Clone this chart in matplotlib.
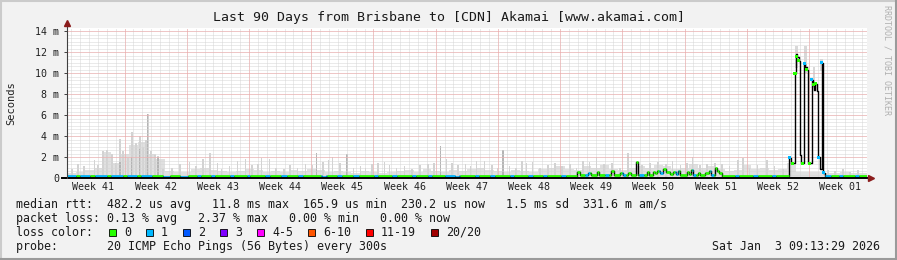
import numpy as np
import matplotlib
matplotlib.use("Agg")
import matplotlib.pyplot as plt
from matplotlib.patches import Rectangle
from matplotlib.lines import Line2D

W, H = 897, 260
MONO = "DejaVu Sans Mono"

title = "Last 90 Days from Brisbane to [CDN] Akamai [www.akamai.com]"
week_labels = ["Week 41", "Week 42", "Week 43", "Week 44", "Week 45", "Week 46", "Week 47",
               "Week 48", "Week 49", "Week 50", "Week 51", "Week 52", "Week 01"]
first_week_line = 6.47          # day where "Week 42" starts
y_ticks = [0, 2, 4, 6, 8, 10, 12, 14]
y_labels = ["0", "2 m", "4 m", "6 m", "8 m", "10 m", "12 m", "14 m"]

# smoke (ms) - one value per day
smoke_base = [0.5, 0.6, 0.8, 1.0, 2.5, 1.4, 2.3, 3.2, 3.4, 2.3,
              1.8, 0.7, 0.6, 0.6, 0.9, 1.0, 0.8, 0.7, 0.6, 0.7,
              0.9, 0.8, 0.6, 0.7, 0.6, 0.8, 0.7, 0.9, 0.8, 0.6,
              0.7, 0.6, 0.5, 0.7, 0.6, 0.5, 0.6, 0.7, 0.8, 0.6,
              0.9, 0.7, 0.6, 0.8, 0.7, 0.9, 1.0, 0.8, 0.7, 0.6,
              0.8, 0.7, 0.6, 0.9, 1.0, 1.1, 0.9, 0.8, 1.1, 1.0,
              1.2, 0.9, 0.8, 1.0, 1.1, 1.0, 1.2, 1.1, 0.9, 1.0,
              1.3, 1.0, 1.1, 0.9, 0.7, 0.8, 1.2, 0.9, 1.0, 0.8,
              0.9, 1.4, 0.6, 0.6, 0.6, 0.5, 0.5, 0.6, 0.5, 0.5]

# single smoke spikes (day, ms)
spike_day = [0.56, 1.24, 1.9, 3.1, 3.5, 4.05, 4.5, 5.06, 5.5, 5.96, 6.3, 6.86, 7.3, 7.76,
             8.2, 8.55, 8.9, 9.1, 9.45, 9.9, 10.24, 10.8, 11.8, 12.7, 13.8, 14.5, 15.3,
             16.1, 16.9, 17.4, 18.3, 19.2, 20.1, 20.8, 21.5, 21.9, 22.8, 23.5, 24.4, 25.1,
             25.9, 26.8, 27.6, 28.1, 28.8, 29.4, 29.9, 30.7, 31.5, 32.2, 33.0, 33.6, 34.3,
             35.0, 35.7, 36.3, 37.1, 38.0, 38.8, 39.7, 40.6, 41.3, 42.0, 42.7, 43.3, 44.0,
             44.8, 45.4, 46.1, 47.0, 47.8, 48.4, 49.05, 49.8, 50.5, 51.2, 51.7, 52.4, 53.2,
             54.1, 54.9, 55.7, 56.6, 57.3, 58.05, 58.8, 59.6, 60.4, 61.3, 62.2, 63.1, 64.7,
             65.6, 66.5, 67.4, 68.1, 69.0, 69.75, 70.4, 71.2, 72.0, 72.9, 73.7, 74.5, 75.5,
             76.05, 76.8, 77.7, 78.75, 79.6, 80.55, 85.6, 86.4, 87.3, 88.1, 89.0]
spike_ms = [0.9, 1.3, 1.1, 1.7, 1.2, 2.6, 2.7, 2.3, 1.4, 3.7, 2.6, 1.9, 4.4, 3.3,
            4.0, 3.0, 3.6, 6.1, 2.6, 2.2, 2.1, 0.9, 1.0, 1.3, 1.5, 1.1, 1.8,
            2.4, 1.4, 0.9, 1.1, 1.6, 1.8, 1.2, 1.3, 1.9, 1.8, 1.0, 0.9, 1.2,
            1.0, 1.3, 1.2, 2.4, 1.5, 1.7, 2.0, 1.4, 2.3, 1.0, 1.1, 1.0, 1.3,
            1.4, 1.5, 1.2, 1.0, 1.1, 0.9, 1.2, 1.3, 1.4, 3.05, 1.8, 1.4, 1.2,
            1.3, 1.1, 1.6, 1.6, 1.2, 1.0, 2.7, 1.1, 1.0, 1.6, 1.4, 1.5, 1.0,
            1.2, 1.4, 1.1, 1.3, 1.0, 1.6, 1.5, 2.0, 1.3, 1.4, 1.0, 2.4, 1.2,
            1.4, 1.5, 1.3, 1.6, 1.2, 1.4, 2.0, 1.2, 1.3, 1.4, 1.3, 1.1, 1.7,
            1.9, 1.0, 1.2, 1.7, 1.1, 0.9, 0.8, 0.7, 0.9, 0.6, 0.8]

# darker smoke streaks
dark_day = [5.96, 7.3, 8.2, 9.1, 10.24, 28.1, 31.5, 42.0, 49.05]
dark_ms = [1.5, 2.0, 2.8, 6.1, 2.0, 2.4, 2.3, 3.05, 2.7]

# smoke above the big median peaks
peak_day = [82.05, 83.1, 84.05, 84.9]
peak_lo = [10.5, 10.0, 8.6, 10.2]
peak_hi = [12.6, 12.6, 10.6, 11.4]

# median rtt (ms), step starts
med_day = [0.0, 10.8, 11.6, 12.7, 13.6, 28.7, 29.1, 43.65, 44.1,
           57.37, 57.7, 58.6, 58.9, 59.6, 59.9, 61.2, 61.5, 62.2, 62.5, 63.1, 63.4,
           64.0, 64.2, 65.25, 65.5, 65.9, 66.2, 66.4, 66.7, 67.1, 67.4, 67.8, 68.2,
           68.5, 68.7, 69.0, 69.75, 70.0, 70.2, 70.4, 71.0, 71.2, 71.8, 72.2, 72.5,
           72.9, 73.1, 73.3, 73.7,
           81.26, 81.5, 81.9, 81.98, 82.13, 82.3, 82.46, 82.6, 82.91, 83.05, 83.2,
           83.39, 83.78, 83.9, 84.05, 84.2, 84.34, 84.52, 84.7, 84.9, 85.08, 85.27]
med_ms = [0.22, 0.12, 0.22, 0.1, 0.22, 0.12, 0.22, 0.12, 0.22,
          0.55, 0.3, 0.5, 0.3, 0.55, 0.3, 0.65, 0.3, 0.45, 0.3, 0.5, 0.3,
          1.56, 0.3, 0.55, 0.3, 0.6, 0.45, 0.7, 0.5, 0.9, 0.55, 0.35, 0.6,
          0.35, 0.65, 0.3, 0.55, 0.4, 0.8, 0.3, 0.5, 0.3, 0.45, 0.65, 0.3,
          0.93, 0.7, 0.45, 0.22,
          1.9, 1.4, 10.0, 11.85, 11.6, 11.2, 2.2, 1.4, 10.9, 10.6, 10.3,
          1.4, 9.4, 8.9, 8.4, 9.0, 8.3, 2.0, 0.9, 11.0, 0.5, 0.22]

# lost pings (index into loss colours), step starts; -1 = drawn black only
loss_day = [0.0, 1.0, 1.5, 2.6, 3.1, 4.5, 4.9, 6.3, 6.8, 7.9, 8.3, 9.6, 10.8, 11.6,
            12.7, 13.6, 14.6, 15.1, 16.2, 16.7, 18.3, 18.8, 20.2, 20.6, 22.3, 22.8,
            24.1, 24.7, 26.0, 26.5, 28.6, 29.2, 30.4, 30.9, 32.2, 32.8, 34.5, 35.0,
            36.6, 37.1, 38.8, 39.3, 40.6, 41.1, 42.5, 43.6, 44.2, 45.9, 46.4, 47.6,
            48.1, 49.8, 50.3, 51.9, 52.4, 53.5, 54.0, 55.6, 56.1, 57.4, 58.3, 58.8,
            60.5, 61.0, 62.4, 62.9, 64.4, 64.9, 66.6, 67.0, 68.4, 68.9, 70.3, 70.8,
            72.3, 72.8, 75.1, 75.6, 77.2, 77.7, 79.3, 79.8, 81.2, 85.27, 86.0, 86.8,
            87.3, 88.6, 89.1]
loss_n = [1, 0, 1, 0, 1, 0, 1, 0, 1, 0, 1, 0, 1, 0,
          1, 0, 1, 0, 1, 0, 1, 0, 1, 0, 1, 0,
          1, 0, 1, 0, 1, 0, 1, 0, 1, 0, 1, 0,
          1, 0, 1, 0, 1, 0, 1, 1, 0, 1, 0, 1,
          0, 1, 0, 1, 0, 1, 0, 1, 0, 0, 1, 0,
          1, 0, 1, 0, 1, 0, 1, 0, 1, 0, 1, 0,
          1, 0, 1, 0, 1, 0, 1, 0, -1, 1, 0, 1,
          0, 1, 0]

# coloured median points inside the big peaks
dot_day = [81.3, 81.6, 81.9, 82.1, 82.25, 82.7, 83.0, 83.15, 83.5, 83.78, 83.95,
           84.2, 84.5, 84.9, 85.1]
dot_ms = [2.0, 1.4, 10.0, 11.6, 11.2, 1.4, 10.9, 10.4, 1.4, 9.4, 8.9, 9.0, 2.0, 11.0, 0.5]
dot_n = [1, 0, 0, 0, 0, 0, 1, 0, 0, 1, 0, 0, 1, 1, 1]

loss_names = ["0", "1", "2", "3", "4-5", "6-10", "11-19", "20/20"]
loss_colors = ["#26ff00", "#00b8ff", "#0059ff", "#7e00ff", "#ff00ff", "#ff5500",
               "#ff0000", "#a10000"]

legend_rows = [
    "median rtt:  482.2 us avg   11.8 ms max  165.9 us min  230.2 us now   1.5 ms sd  331.6 m am/s",
    "packet loss: 0.13 % avg   2.37 % max   0.00 % min   0.00 % now",
    "loss color:",
    "probe:       20 ICMP Echo Pings (56 Bytes) every 300s",
]
stamp = "Sat Jan  3 09:13:29 2026"


def fx(x):
    return x / W


def fy(y):
    return 1 - y / H


fig = plt.figure(figsize=(W / 100, H / 100), dpi=100, facecolor="#f2f2f2")
ax = fig.add_axes([fx(67), fy(178), 800 / W, 150 / H])
ax.set_facecolor("white")
ax.set_xlim(0, 90)
ax.set_ylim(0, 14.33)
for s in ax.spines.values():
    s.set_visible(False)

# grid, light dotted
dots = (0, (1, 1))
day_lines = np.arange(first_week_line - 6, 90, 1.0)
week_lines = np.arange(first_week_line, 90, 7.0)
minor_y = np.arange(1 / 3, 14.33, 1 / 3)
ax.vlines(day_lines, 0, 14.33, colors="#d6d6d6", lw=0.72, linestyles=dots, zorder=1.5)
ax.hlines(minor_y, 0, 90, colors="#d6d6d6", lw=0.72, linestyles=dots, zorder=1.5)
ax.vlines(week_lines, 0, 14.33, colors="#f2a4a4", lw=0.72, linestyles=dots, zorder=1.6)
ax.hlines(y_ticks[1:], 0, 90, colors="#f2a4a4", lw=0.72, linestyles=dots, zorder=1.6)

# smoke
ax.bar(np.arange(len(smoke_base)), smoke_base, width=1.0, align="edge",
       color="#e0e0e0", lw=0, zorder=1)
ax.bar(spike_day, spike_ms, width=0.16, color="#d2d2d2", lw=0, zorder=1.1)
ax.bar(dark_day, dark_ms, width=0.12, color="#b4b4b4", lw=0, zorder=1.2)
ax.bar(peak_day, np.array(peak_hi) - np.array(peak_lo), bottom=peak_lo, width=0.3,
       color="#d8d8d8", lw=0, zorder=1.1)

# median: black step line, coloured by loss on the flat parts
ax.step(med_day + [90], med_ms + [med_ms[-1]], where="post", color="black", lw=1.0,
        zorder=3)
edges = np.union1d(med_day + [90.0], loss_day)
starts, ends = edges[:-1], edges[1:]
mi = np.searchsorted(med_day, starts, side="right") - 1
li = np.searchsorted(loss_day, starts, side="right") - 1
yv = np.array(med_ms)[mi]
cats = np.array(loss_n)[li]
keep = cats >= 0
ax.hlines(yv[keep], starts[keep], ends[keep],
          colors=[loss_colors[c] for c in cats[keep]], lw=1.9, zorder=4)
ax.scatter(dot_day, dot_ms, marker="s", s=5, c=[loss_colors[c] for c in dot_n],
           lw=0, zorder=5)

# axes lines + arrows
ax.plot([-0.55, 90.3], [0, 0], color="black", lw=1.4, clip_on=False, zorder=6)
ax.plot([0, 0], [0, 14.75], color="#404040", lw=0.8, clip_on=False, zorder=6)
ax.plot([90.45], [0], marker=">", ms=4.5, color="#8b1c1c", clip_on=False, zorder=7)
ax.plot([0], [14.85], marker="^", ms=4.5, color="#8b1c1c", clip_on=False, zorder=7)

ax.set_xticks([])
ax.set_yticks(y_ticks)
ax.set_yticklabels(y_labels, family=MONO, fontsize=7.2, color="#222222")
ax.tick_params(axis="y", length=2.2, width=0.7, color="#404040", pad=3.5)

mids = [first_week_line - 3.5 + 7 * i for i in range(len(week_labels))]
for m, lab in zip(mids, week_labels):
    ax.text(m, -0.06, lab, transform=ax.get_xaxis_transform(), ha="center",
            va="center", family=MONO, fontsize=7.2, color="#222222")

# texts around
fig.text(0.5, fy(17.5), title, ha="center", va="center", family=MONO, fontsize=9.5,
         color="#1a1a1a")
fig.text(fx(11), fy(103), "Seconds", rotation=90, ha="center", va="center",
         family=MONO, fontsize=7.5, color="#222222")
fig.text(fx(887), fy(60), "RRDTOOL / TOBI OETIKER", rotation=-90, ha="center",
         va="center", family=MONO, fontsize=6, color="#b0b0b0")

row_y = [204.3, 218.3, 232.3, 246.2]
for txt, y in zip(legend_rows, row_y):
    fig.text(fx(16), fy(y), txt, ha="left", va="center", family=MONO, fontsize=8.35,
             color="#1a1a1a")
fig.text(fx(880), fy(row_y[3]), stamp, ha="right", va="center", family=MONO,
         fontsize=8.35, color="#1a1a1a")

x = 109
for name, col in zip(loss_names, loss_colors):
    fig.add_artist(Rectangle((fx(x), fy(235.8)), 7 / W, 7 / H, transform=fig.transFigure,
                             facecolor=col, edgecolor="black", lw=0.6))
    fig.text(fx(x + 15), fy(row_y[2]), name, ha="left", va="center", family=MONO,
             fontsize=8.35, color="#1a1a1a")
    x += 15 + 7 * len(name) + 15

# 3d frame
for (x0, y0, x1, y1, c) in [(0, 1, W, 1, "#cbcbcb"), (1, 0, 1, H, "#cbcbcb"),
                            (0, H - 1, W, H - 1, "#9a9a9a"), (W - 1, 0, W - 1, H, "#9a9a9a")]:
    fig.add_artist(Line2D([fx(x0), fx(x1)], [fy(y0), fy(y1)], transform=fig.transFigure,
                          color=c, lw=1.5))

fig.savefig("out.png", dpi=100, facecolor=fig.get_facecolor())
